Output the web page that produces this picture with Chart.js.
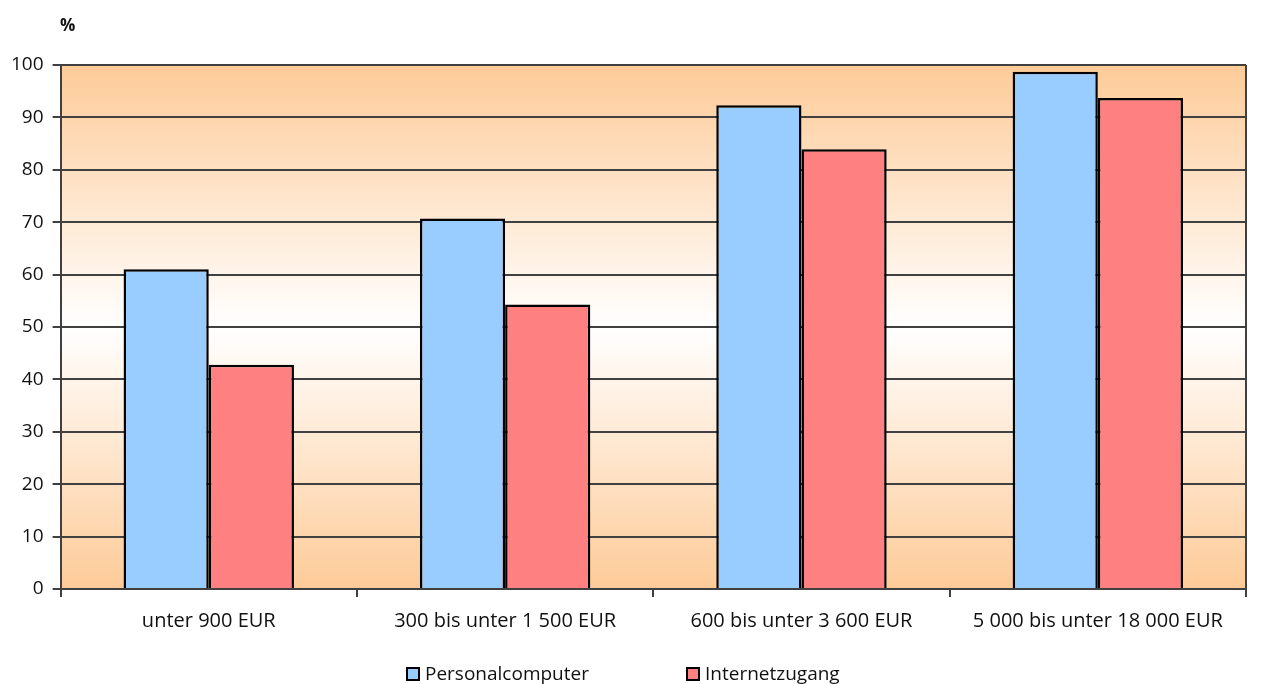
<!DOCTYPE html>
<html>
<head>
<meta charset="utf-8">
<script src="https://cdn.jsdelivr.net/npm/chart.js@4/dist/chart.umd.min.js"></script>
<style>
  html, body { margin: 0; padding: 0; background: #fff; }
  #wrap { position: relative; width: 1266px; height: 684px; }
  #legend {
    position: absolute; left: 0; top: 661px; width: 1266px; height: 24px;
    font-family: 'Open Sans', 'Noto Sans', sans-serif; font-size: 19px; color: #111;
  }
  #legend span.item { position: absolute; top: 0; white-space: nowrap; line-height: 24px; }
  #legend span.box {
    display: inline-block; width: 10px; height: 10px; border: 2px solid #000;
    margin-right: 5px; vertical-align: -1px;
  }
</style>
</head>
<body>
<div id="wrap">
  <canvas id="einkommen"></canvas>
  <div id="legend"></div>
</div>
<script>
const categories = ["unter 900 EUR", "300 bis unter 1 500 EUR", "600 bis unter 3 600 EUR", "5 000 bis unter 18 000 EUR"];
const personalcomputer = [61.0, 70.7, 92.3, 98.7];
const internetzugang = [42.8, 54.3, 83.9, 93.7];
const yTicks = [0, 10, 20, 30, 40, 50, 60, 70, 80, 90, 100];

const fontFamily = "'Open Sans', 'Noto Sans', sans-serif";

// orange-white-orange background + frame around the plot
const plotBackground = {
  id: "plotBackground",
  beforeDraw(chart) {
    const { ctx, chartArea: a } = chart;
    const g = ctx.createLinearGradient(0, a.top, 0, a.bottom);
    g.addColorStop(0, "#fdcb98");
    g.addColorStop(0.5, "#ffffff");
    g.addColorStop(1, "#fdcb98");
    ctx.save();
    ctx.fillStyle = g;
    ctx.fillRect(a.left, a.top, a.right - a.left, a.bottom - a.top);
    ctx.restore();
  },
  afterDraw(chart) {
    const { ctx, chartArea: a } = chart;
    ctx.save();
    ctx.strokeStyle = "#404040";
    ctx.lineWidth = 2;
    ctx.beginPath();
    ctx.moveTo(a.right, a.top);
    ctx.lineTo(a.right, a.bottom);
    ctx.stroke();
    ctx.fillStyle = "#111";
    ctx.font = "bold 17px " + fontFamily;
    ctx.textAlign = "left";
    ctx.textBaseline = "middle";
    ctx.fillText("%", 60, 26);
    ctx.restore();
  }
};

const chart = new Chart(document.getElementById("einkommen"), {
  type: "bar",
  data: {
    labels: categories,
    datasets: [
      {
        label: "Personalcomputer",
        data: personalcomputer,
        backgroundColor: "#99ccff",
        borderColor: "#000",
        borderWidth: 2.5,
        categoryPercentage: 0.575,
        barPercentage: 1.0
      },
      {
        label: "Internetzugang",
        data: internetzugang,
        backgroundColor: "#ff8080",
        borderColor: "#000",
        borderWidth: 2.5,
        categoryPercentage: 0.575,
        barPercentage: 1.0
      }
    ]
  },
  options: {
    responsive: true,
    maintainAspectRatio: false,
    animation: false,
    layout: { padding: { top: 65, right: 20, left: 2, bottom: 39 } },
    plugins: {
      legend: { display: false },
      tooltip: { enabled: false }
    },
    scales: {
      x: {
        grid: {
          display: true,
          drawOnChartArea: false,
          offset: true,
          color: "#404040",
          lineWidth: 2,
          tickLength: 8
        },
        border: { color: "#404040", width: 2 },
        ticks: {
          color: "#111",
          padding: 12,
          maxRotation: 0,
          font: { family: fontFamily, size: 20 }
        }
      },
      y: {
        min: 0,
        max: 100,
        afterBuildTicks(axis) {
          axis.ticks = yTicks.map(v => ({ value: v }));
        },
        grid: {
          color: "#404040",
          lineWidth: 2,
          tickLength: 8
        },
        border: { color: "#404040", width: 2 },
        ticks: {
          color: "#111",
          padding: 9,
          font: { family: fontFamily, size: 19 }
        }
      }
    }
  },
  plugins: [plotBackground]
});

// legend as html, positions as in the original
const legendItems = [
  { label: chart.data.datasets[0].label, color: chart.data.datasets[0].backgroundColor, x: 406 },
  { label: chart.data.datasets[1].label, color: chart.data.datasets[1].backgroundColor, x: 686 }
];
const legendEl = document.getElementById("legend");
legendItems.forEach(it => {
  const s = document.createElement("span");
  s.className = "item";
  s.style.left = it.x + "px";
  const b = document.createElement("span");
  b.className = "box";
  b.style.background = it.color;
  s.appendChild(b);
  s.appendChild(document.createTextNode(it.label));
  legendEl.appendChild(s);
});
</script>
</body>
</html>
